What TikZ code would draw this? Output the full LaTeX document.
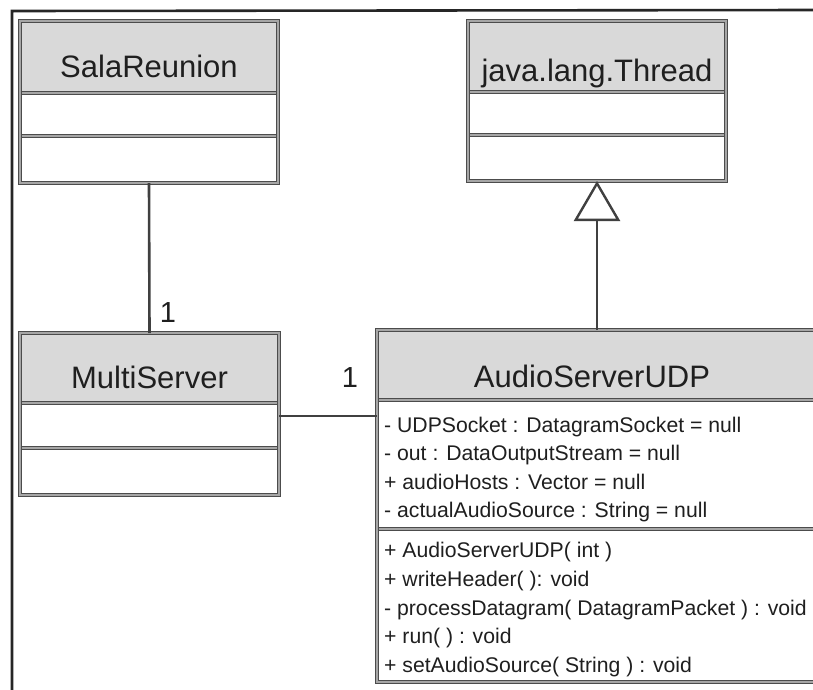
\documentclass[tikz,border=0pt]{standalone}
\usepackage{fontspec}
\setmainfont{Liberation Sans}
\usetikzlibrary{arrows.meta,calc}

% A UML class box: name, x1, y1, x2, y2, header bottom, second separator
\newcommand\classbox[7]{%
  \node[inner sep=0pt, outer sep=0pt, minimum width={#4-#2}, minimum height={#5-#3}]
    (#1) at ({(#2+#4)/2},{(#3+#5)/2}) {};
  \fill[headfill] (#1.north west) rectangle (#4,#6);
  \draw[boxline] (#2,#6) -- (#4,#6);
  \draw[boxline] (#2,#7) -- (#4,#7);
  \draw[boxline] (#1.north west) rectangle (#1.south east);
}

\begin{document}
\begin{tikzpicture}[x=1pt,y=-1pt,
  edge/.style={draw=black!75, line width=2.6pt},
  boxline/.style={draw=black!70, double=black!35, double distance=1.3pt, line width=1.3pt},
  headfill/.style={fill=black!15},
  classname/.style={font=\fontsize{31}{31}\selectfont, text=black!88, inner sep=0pt, anchor=base},
  member/.style={font=\fontsize{21.2}{21.2}\selectfont, text=black!88, inner sep=0pt, anchor=base west},
  mult/.style={font=\fontsize{29}{29}\selectfont, text=black!88, inner sep=0pt, anchor=base},
  frameline/.style={draw=black!85, line width=2.6pt},
]
\useasboundingbox (0,0) rectangle (813,689);
\fill[white] (0,0) rectangle (813,689);

\begin{scope}
\clip (0,0) rectangle (813,689);

% outer frame (left and top edges)
\coordinate (frTL) at (12,11);
\coordinate (frTR) at (815,10);
\coordinate (frBL) at (12,692);
\draw[frameline] (frBL) -- (frTL) -- (frTR);

% classes
\classbox{sala}{20}{21}{278}{183}{93}{136}
\classbox{thread}{468}{21}{726}{181}{92}{135}
\classbox{multi}{20}{333}{279}{495}{403}{448}
\classbox{audio}{377}{330}{834}{682}{400}{529}

% class names
\node[classname] (salaN)   at ($(sala.north)+(0,56)$)   {SalaReunion};
\node[classname] (threadN) at ($(thread.north)+(0,60)$) {java.lang.Thread};
\node[classname] (multiN)  at ($(multi.north)+(0,55)$)  {MultiServer};
\node[classname] (audioN)  at (592,387)                 {AudioServerUDP};

% attributes of AudioServerUDP
\node[member] (a1) at (384,432) {- UDPSocket : DatagramSocket = null};
\node[member] (a2) at (384,460) {- out : DataOutputStream = null};
\node[member] (a3) at (384,489) {+ audioHosts : Vector = null};
\node[member] (a4) at (384,517) {- actualAudioSource : String = null};

% operations of AudioServerUDP
\node[member] (o1) at (384,557) {+ AudioServerUDP( int )};
\node[member] (o2) at (384,586) {+ writeHeader( ): void};
\node[member] (o3) at (384,615) {- processDatagram( DatagramPacket ) : void};
\node[member] (o4) at (384,643) {+ run( ) : void};
\node[member] (o5) at (384,672) {+ setAudioSource( String ) : void};

% associations
\draw[edge] (sala.south) -- (multi.north);
\coordinate (mA) at ($(multi.north east)+(0,83)$);
\draw[edge] (mA) -- (mA -| audio.west);
\node[mult] (mult1) at (168,322) {1};
\node[mult] (mult2) at (350,387) {1};

% generalization
\draw[edge, -{Triangle[open, length=40pt, width=46pt, line width=2.4pt, fill=white]}]
  (audio.north -| thread.south) -- (thread.south);
\end{scope}
\end{tikzpicture}
\end{document}
